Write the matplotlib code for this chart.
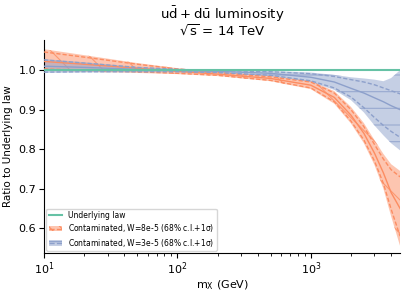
import matplotlib
matplotlib.use("Agg")
import matplotlib.pyplot as plt
from matplotlib.colors import to_rgba
from matplotlib.patches import Patch
from matplotlib.lines import Line2D

plt.rcParams["mathtext.default"] = "regular"
plt.rcParams["hatch.linewidth"] = 0.8

# invariant mass grid (GeV)
mx = [10, 20, 50, 100, 200, 500, 1000, 1500, 2000, 2500, 3000, 3500, 4000, 4667]

# W=8e-5 contaminated fit
w8_cl_hi = [1.053, 1.038, 1.018, 1.005, 0.996, 0.986, 0.973, 0.947, 0.907, 0.866, 0.823, 0.788, 0.762, 0.745]
w8_cl_lo = [0.998, 0.996, 0.993, 0.990, 0.985, 0.972, 0.952, 0.915, 0.865, 0.815, 0.760, 0.700, 0.630, 0.555]
w8_sd_hi = [1.046, 1.033, 1.015, 1.003, 0.994, 0.983, 0.970, 0.942, 0.900, 0.857, 0.812, 0.775, 0.748, 0.730]
w8_sd_lo = [1.003, 1.000, 0.996, 0.992, 0.987, 0.974, 0.955, 0.920, 0.871, 0.823, 0.770, 0.713, 0.648, 0.580]
w8_mid = [1.022, 1.015, 1.005, 0.997, 0.990, 0.979, 0.962, 0.931, 0.886, 0.840, 0.790, 0.740, 0.690, 0.650]

# W=3e-5 contaminated fit
w3_cl_hi = [1.028, 1.020, 1.008, 1.003, 1.000, 0.998, 0.994, 0.988, 0.982, 0.979, 0.976, 0.972, 0.980, 1.000]
w3_cl_lo = [0.993, 0.994, 0.995, 0.995, 0.993, 0.985, 0.970, 0.950, 0.924, 0.893, 0.860, 0.835, 0.815, 0.797]
w3_sd_hi = [1.026, 1.018, 1.007, 1.002, 0.999, 0.996, 0.991, 0.984, 0.976, 0.970, 0.963, 0.955, 0.948, 0.940]
w3_sd_lo = [0.995, 0.996, 0.996, 0.996, 0.994, 0.987, 0.973, 0.955, 0.932, 0.905, 0.880, 0.860, 0.845, 0.830]
w3_mid = [1.010, 1.007, 1.002, 0.999, 0.997, 0.992, 0.982, 0.970, 0.954, 0.942, 0.930, 0.920, 0.910, 0.900]

underlying = [1.0] * len(mx)

GREEN = "#66c2a5"
ORANGE = "#fc8d62"
BLUE = "#8da0cb"

fig = plt.figure(figsize=(4.07, 2.95), dpi=100)
ax = fig.add_axes([0.108, 0.142, 0.875, 0.722])

ax.plot(mx, underlying, color=GREEN, lw=1.5, zorder=5)

series = [
    (w8_cl_lo, w8_cl_hi, w8_sd_lo, w8_sd_hi, w8_mid, ORANGE, "\\"),
    (w3_cl_lo, w3_cl_hi, w3_sd_lo, w3_sd_hi, w3_mid, BLUE, "-"),
]
for lo, hi, slo, shi, mid, c, h in series:
    ax.fill_between(mx, lo, hi, facecolor=to_rgba(c, 0.5), edgecolor=to_rgba(c, 0.8),
                    hatch=h, linewidth=0, zorder=2)
    ax.plot(mx, slo, color=c, lw=1, ls="--", dashes=(3, 1.5), zorder=3)
    ax.plot(mx, shi, color=c, lw=1, ls="--", dashes=(3, 1.5), zorder=3)
    ax.plot(mx, mid, color=c, lw=1, zorder=3)

ax.set_xscale("log")
ax.set_xlim(10, 4667)
ax.set_ylim(0.537, 1.076)
ax.set_yticks([0.6, 0.7, 0.8, 0.9, 1.0])
ax.spines["top"].set_visible(False)
ax.spines["right"].set_visible(False)
ax.tick_params(labelsize=8, pad=2)
ax.set_xlabel(r"$m_X$ (GeV)", fontsize=8, labelpad=1)
ax.set_ylabel("Ratio to Underlying law", fontsize=7.5)
ax.set_title(r"$\mathrm{u\bar{d} + d\bar{u}}$ luminosity" + "\n" + r"$\sqrt{s}$ = 14 TeV",
             fontsize=9.5, linespacing=1.0, pad=3)

handles = [
    Line2D([], [], color=GREEN, lw=1.5),
    (Patch(facecolor=to_rgba(ORANGE, 0.5), edgecolor=ORANGE, hatch="\\\\\\", lw=0),
     Line2D([], [], color=ORANGE, lw=1, ls="--")),
    (Patch(facecolor=to_rgba(BLUE, 0.5), edgecolor=BLUE, hatch="---", lw=0),
     Line2D([], [], color=BLUE, lw=1, ls="--")),
]
labels = [
    "Underlying law",
    "Contaminated, W=8e-5 (68% c.l.+1$\\sigma$)",
    "Contaminated, W=3e-5 (68% c.l.+1$\\sigma$)",
]
ax.legend(handles, labels, loc="lower left", fontsize=5.5, handlelength=1.8,
          labelspacing=0.3, borderpad=0.3, borderaxespad=0.3)

fig.savefig("out.png", dpi=100)
